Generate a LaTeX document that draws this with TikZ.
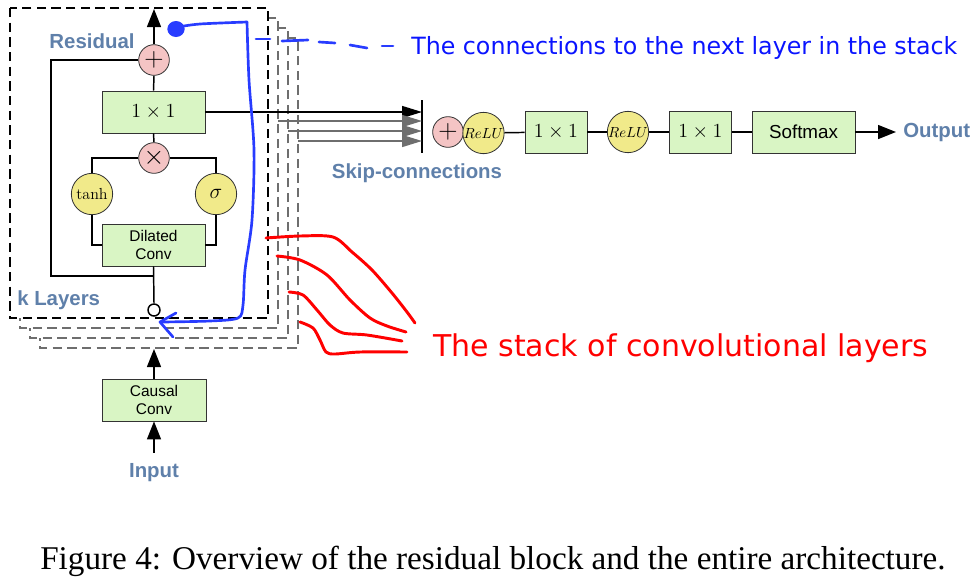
\RequirePackage{fix-cm}
\documentclass[tikz,border=0pt]{standalone}
\usepackage{fontspec}
\setsansfont{Liberation Sans}
\newfontfamily\capfont{Liberation Serif}
\newfontfamily\inkfont{DejaVu Sans}
\usetikzlibrary{arrows.meta}
\definecolor{boxgreen}{RGB}{217,245,196}
\definecolor{oppink}{RGB}{244,196,196}
\definecolor{gateyellow}{RGB}{241,234,138}
\definecolor{lblblue}{RGB}{95,128,170}
\definecolor{inkblue}{RGB}{40,60,255}
\definecolor{textblue}{RGB}{10,20,255}
\definecolor{inkred}{RGB}{255,0,0}
\definecolor{stackgray}{RGB}{110,110,110}

\begin{document}
\begin{tikzpicture}[x=0.75pt,y=-0.75pt,
 blk/.style={draw=black!80,fill=boxgreen,line width=.6pt,inner sep=0pt,minimum width=77.25pt,minimum height=31.5pt,align=center,font=\sffamily\fontsize{11.6}{13}\selectfont},
 op/.style={circle,draw=black!80,fill=oppink,line width=.6pt,inner sep=0pt,minimum size=23pt,font=\fontsize{20}{20}\selectfont},
 gate/.style={circle,draw=black!80,fill=gateyellow,line width=.6pt,inner sep=0pt,minimum size=31pt},
 lbl/.style={text=lblblue,inner sep=0pt,font=\sffamily\bfseries\fontsize{15.3}{18}\selectfont},
 wire/.style={line width=1.1pt},
 arr/.style={wire,-{Triangle[length=13.5pt,width=10.5pt]}},
 skiparr/.style={line width=1.1pt,-{Triangle[length=15pt,width=9pt]}},
 layerbox/.style={line width=1.1pt,dash pattern=on 7pt off 4pt,fill=white},
 ink/.style={line width=2pt,draw=inkblue,line cap=round,line join=round},
 redink/.style={line width=2.2pt,draw=inkred,line cap=round,line join=round}]
\useasboundingbox (0,0) rectangle (977,576);

% stack of layers, back to front
\foreach \d/\c in {30/stackgray,20/stackgray,10/stackgray,0/black}
  \draw[layerbox,draw=\c] (10+\d,8+\d) rectangle (268+\d,318+\d);

% residual block
\node[op] (add) at (154,60) {$+$};
\node[blk,font=\fontsize{15}{16}\selectfont,minimum height=31.5pt] (c11) at (153.5,112) {$1\times1$};
\node[op] (mul) at (154,158) {$\times$};
\node[gate,font=\fontsize{12}{14}\selectfont] (tanh) at (92,194) {$\tanh$};
\node[gate,font=\fontsize{16}{18}\selectfont] (sig) at (216,194) {$\sigma$};
\node[blk] (dil) at (153.5,245) {Dilated\\Conv};
\node[circle,draw,fill=white,line width=1.1pt,inner sep=0pt,minimum size=9pt] (tap) at (154,310) {};
\coordinate (top) at (154,9);
\coordinate (lp) at (51,276);
\coordinate (jn) at (154,276);

\draw[arr] (add.north) -- (top);
\draw[wire] (c11.north) -- (add.south);
\draw[wire] (mul.north) -- (c11.south);
\draw[wire] (mul.west) -| (tanh.north);
\draw[wire] (mul.east) -| (sig.north);
\draw[wire] (tanh.south) |- (dil.west);
\draw[wire] (sig.south) |- (dil.east);
\draw[wire] (dil.south) -- (tap.north);
\draw[wire] (add.west) -| (lp) -- (jn);

\node[lbl,anchor=base] (res) at (92,48) {Residual};
\node[lbl,anchor=base west] (kl) at (17,305) {k Layers};

% skip connections
\coordinate (bt) at (422,100);
\coordinate (bb) at (422,153);
\draw[line width=1.4pt] (bt) -- (bb);
\draw[skiparr] (c11.east) -- (c11.east -| bt);
\foreach \i in {1,2,3}{
  \coordinate (g\i) at (268+10*\i,111+10*\i);
  \draw[skiparr,draw=stackgray,fill=stackgray] (g\i) -- (g\i -| bt);
}
\node[lbl,anchor=base] (skl) at (417,178) {Skip-connections};

% output chain
\node[op] (sum) at (448,132) {$+$};
\node[gate,font=\fontsize{11}{12}\selectfont] (r1) at (483.5,133) {$ReLU$};
\node[blk,minimum width=46.5pt,font=\fontsize{15}{16}\selectfont] (p1) at (556,132) {$1\times1$};
\node[gate,font=\fontsize{11}{12}\selectfont] (r2) at (628,132) {$ReLU$};
\node[blk,minimum width=46.5pt,font=\fontsize{15}{16}\selectfont] (p2) at (700.5,132) {$1\times1$};
\node[blk,minimum width=77.25pt,font=\sffamily\fontsize{14.1}{16}\selectfont] (sm) at (803.5,132) {Softmax};
\node[lbl,anchor=west] (out) at (903,132) {Output};
\coordinate (tip) at (896,132);
\draw[wire] (r1) -- (p1);
\draw[wire] (p1) -- (r2);
\draw[wire] (r2) -- (p2);
\draw[wire] (p2) -- (sm);
\draw[arr] (sm) -- (tip);

% input
\node[blk,minimum width=78pt] (cau) at (154,400) {Causal\\Conv};
\coordinate (stk) at (154,349);
\node[lbl,anchor=base,inner ysep=7.5pt] (inp) at (154,477) {Input};
\draw[arr] (cau.north) -- (stk);
\draw[arr] (inp.north) -- (cau.south);

% blue annotation
\fill[inkblue] (176,29) circle[x radius=6.5pt,y radius=6pt];
\draw[ink] plot[smooth,tension=.5] coordinates {(178,27) (200,24) (247,22)};
\draw[ink] plot[smooth,tension=.5] coordinates {(247,22) (249,80) (254,150) (252,220) (245,270) (243,305) (238,318) (210,321) (162,322)};
\draw[ink] (176,313) -- (160,322) -- (173,337);
\foreach \a/\ya/\b/\yb in {256/39/270/39,282/41/308/40,319/42/335/43,350/45/367/48,382/46/393/46}
  \draw[ink] (\a,\ya) -- (\b,\yb);
\node[anchor=base west,inner sep=0pt,text=textblue,font=\inkfont\fontsize{17.8}{20}\selectfont] (note1) at (411,54) {The connections to the next layer in the stack};

% red annotation
\draw[redink] plot[smooth] coordinates {(266,238) (300,236) (333,237) (352,252) (372,270) (392,293) (407,312) (415,323)};
\draw[redink] plot[smooth] coordinates {(277,256) (300,260) (327,275) (350,300) (370,318) (387,326) (406,332)};
\draw[redink] plot[smooth] coordinates {(289,292) (303,295) (317,310) (330,325) (343,333) (367,335) (402,341)};
\draw[redink] plot[smooth] coordinates {(300,322) (313,328) (320,340) (326,352) (335,354) (360,352) (407,352)};
\node[anchor=base west,inner sep=0pt,text=inkred,font=\inkfont\fontsize{22.5}{26}\selectfont] (note2) at (433,356) {The stack of convolutional layers};

% caption
\node[anchor=base west,inner sep=0pt,font=\capfont\fontsize{24.9}{28}\selectfont] (cap) at (40,569) {Figure 4: Overview of the residual block and the entire architecture.};
\end{tikzpicture}
\end{document}
